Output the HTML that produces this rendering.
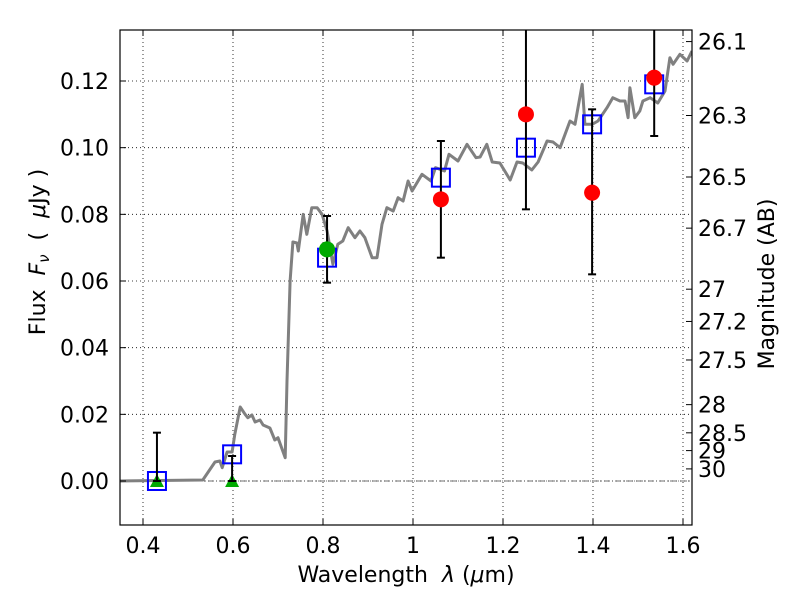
<!DOCTYPE html>
<html><head><meta charset="utf-8"><style>
body{margin:0;background:#fff;}
svg{display:block;font-family:"DejaVu Sans","Liberation Sans",sans-serif;}
</style></head><body>
<svg id="chart" width="800" height="600" viewBox="0 0 800 600"></svg>
<script>
const specX=[0.35,0.533,0.56,0.571,0.576,0.587,0.598,0.604,0.616,0.627,0.633,0.642,0.649,0.66,0.667,0.682,0.693,0.70,0.716,0.72,0.727,0.733,0.742,0.745,0.756,0.764,0.775,0.787,0.798,0.809,0.822,0.833,0.844,0.856,0.871,0.882,0.893,0.909,0.92,0.931,0.942,0.956,0.967,0.978,0.989,0.998,1.02,1.04,1.05,1.07,1.08,1.1,1.12,1.14,1.149,1.164,1.176,1.193,1.216,1.231,1.244,1.264,1.278,1.298,1.311,1.327,1.349,1.36,1.376,1.382,1.398,1.411,1.431,1.444,1.46,1.471,1.478,1.482,1.493,1.504,1.511,1.527,1.544,1.56,1.571,1.578,1.593,1.609,1.62];
const specY=[0,0.0003,0.0057,0.006,0.004,0.0087,0.0087,0.014,0.0222,0.020,0.019,0.0198,0.0177,0.0183,0.0168,0.0159,0.0123,0.013,0.007,0.030,0.060,0.0717,0.0714,0.069,0.080,0.074,0.082,0.082,0.080,0.075,0.065,0.071,0.072,0.076,0.073,0.075,0.073,0.067,0.067,0.077,0.082,0.081,0.085,0.084,0.090,0.087,0.092,0.090,0.094,0.093,0.098,0.096,0.101,0.097,0.0972,0.101,0.0957,0.0954,0.0903,0.0957,0.0954,0.0933,0.0957,0.102,0.1017,0.100,0.108,0.107,0.119,0.107,0.107,0.108,0.112,0.115,0.114,0.114,0.109,0.118,0.109,0.111,0.114,0.115,0.1134,0.117,0.127,0.125,0.128,0.126,0.129];
const modelX=[0.431,0.598,0.809,1.062,1.251,1.398,1.536];
const modelY=[0.0,0.008,0.067,0.091,0.100,0.107,0.119];
const obsX=[1.062,1.251,1.398,1.536];
const obsY=[0.0845,0.110,0.0865,0.121];
const greenX=[0.809];
const greenY=[0.0695];
const triX=[0.431,0.598];
const triY=[0,0];
const errX=[0.431,0.598,0.809,1.062,1.251,1.398,1.536];
const errLo=[0,0,0.0595,0.067,0.0815,0.062,0.1035];
const errHi=[0.0145,0.0075,0.0795,0.102,0.15,0.1115,0.15];
const xTicks=[0.4,0.6,0.8,1.0,1.2,1.4,1.6];
const xTickLabels=["0.4","0.6","0.8","1","1.2","1.4","1.6"];
const yTicks=[0,0.02,0.04,0.06,0.08,0.10,0.12];
const yTickLabels=["0.00","0.02","0.04","0.06","0.08","0.10","0.12"];
const magTicks=[26.1,26.3,26.5,26.7,27,27.2,27.5,28,28.5,29,30];
const magLabels=["26.1","26.3","26.5","26.7","27","27.2","27.5","28","28.5","29","30"];

const L=120,R=692,T=30,B=525;
const sx=v=>143+(v-0.4)*450;
const sy=v=>481-v*3333.3;
const svg=document.getElementById('chart');
const NS='http://www.w3.org/2000/svg';
function mk(tag,attrs,parent){const e=document.createElementNS(NS,tag);for(const k in attrs)e.setAttribute(k,attrs[k]);(parent||svg).appendChild(e);return e;}

const defs=mk('defs',{});
const cp=mk('clipPath',{id:'clip'},defs);
mk('rect',{x:L,y:T,width:R-L,height:B-T},cp);

xTicks.forEach((t,i)=>{
  const g=mk('line',{x1:sx(t),x2:sx(t),y1:T,y2:B,stroke:'#000','stroke-width':0.8,'stroke-dasharray':'1,3'});
  
  
});
yTicks.forEach((t,i)=>{
  const g=mk('line',{x1:L,x2:R,y1:sy(t),y2:sy(t),stroke:'#000','stroke-width':0.8,'stroke-dasharray':'1,3'});
  
  
});
const zl=mk('line',{x1:L,x2:R,y1:sy(0),y2:sy(0),stroke:'#444','stroke-width':0.8,'stroke-dasharray':'6,2,1,2'});



const plot=mk('g',{'clip-path':'url(#clip)'});
let d='';
specX.forEach((x,i)=>{d+=(i?'L':'M')+sx(x).toFixed(1)+','+sy(specY[i]).toFixed(1);});
const sp=mk('path',{d:d,fill:'none',stroke:'#808080','stroke-width':3,'stroke-linejoin':'round'},plot);



modelX.forEach((x,i)=>{
  const r=mk('rect',{x:sx(x)-9,y:sy(modelY[i])-9,width:18,height:18,fill:'none',stroke:'#0000ff','stroke-width':2},plot);
  
  
});
triX.forEach((x,i)=>{
  const cx=sx(x),cy=sy(triY[i]);
  const p=mk('polygon',{points:`${cx-7},${cy+6} ${cx+7},${cy+6} ${cx},${cy-7}`,fill:'#00aa00'},plot);
  
  
});
errX.forEach((x,i)=>{
  const cx=sx(x);
  const g=mk('g',{},plot);
  
  
  mk('line',{x1:cx,x2:cx,y1:sy(errLo[i]),y2:sy(errHi[i]),stroke:'#000','stroke-width':2},g);
  mk('line',{x1:cx-4,x2:cx+4,y1:sy(errLo[i]),y2:sy(errLo[i]),stroke:'#000','stroke-width':2},g);
  mk('line',{x1:cx-4,x2:cx+4,y1:sy(errHi[i]),y2:sy(errHi[i]),stroke:'#000','stroke-width':2},g);
});
greenX.forEach((x,i)=>{
  const c=mk('circle',{cx:sx(x),cy:sy(greenY[i]),r:8,fill:'#00aa00'},plot);
  
  
});
obsX.forEach((x,i)=>{
  const c=mk('circle',{cx:sx(x),cy:sy(obsY[i]),r:8,fill:'#ff0000'},plot);
  
  
});

const fr=mk('rect',{x:L,y:T,width:R-L,height:B-T,fill:'none',stroke:'#000','stroke-width':1.2});



xTicks.forEach((t,i)=>{
  const x=sx(t);
  mk('line',{x1:x,x2:x,y1:B,y2:B-6,stroke:'#000'});
  mk('line',{x1:x,x2:x,y1:T,y2:T+6,stroke:'#000'});
  const tx=mk('text',{x:x,y:B+28,'text-anchor':'middle','font-size':22,fill:'#000'});
  tx.textContent=xTickLabels[i];
  
  
});
yTicks.forEach((t,i)=>{
  const y=sy(t);
  mk('line',{x1:L,x2:L+6,y1:y,y2:y,stroke:'#000'});
  const tx=mk('text',{x:L-11,y:y+8,'text-anchor':'end','font-size':22,fill:'#000'});
  tx.textContent=yTickLabels[i];
  
  
});
magTicks.forEach((m,i)=>{
  const y=sy(Math.pow(10,(23.9-m)/2.5));
  mk('line',{x1:R,x2:R-6,y1:y,y2:y,stroke:'#000'});
  const tx=mk('text',{x:R+6,y:y+8,'font-size':22,fill:'#000'});
  tx.textContent=magLabels[i];
  
  
});
</script>
<svg style="position:absolute;left:0;top:0" width="800" height="600">
<text x="406" y="582" text-anchor="middle" font-size="22" font-family="DejaVu Sans, Liberation Sans, sans-serif" xml:space="preserve">Wavelength  <tspan font-style="italic">λ</tspan> (<tspan font-style="italic">μ</tspan>m)</text>
<text transform="translate(45,252) rotate(-90)" text-anchor="middle" font-size="22" font-family="DejaVu Sans, Liberation Sans, sans-serif" xml:space="preserve">Flux  <tspan font-style="italic">F</tspan><tspan font-style="italic" font-size="15" dy="4">ν</tspan><tspan dy="-4">  (  </tspan><tspan font-style="italic">μ</tspan>Jy )</text>
<text transform="translate(774,284) rotate(-90)" text-anchor="middle" font-size="22" font-family="DejaVu Sans, Liberation Sans, sans-serif">Magnitude (AB)</text>
</svg>
</body></html>
